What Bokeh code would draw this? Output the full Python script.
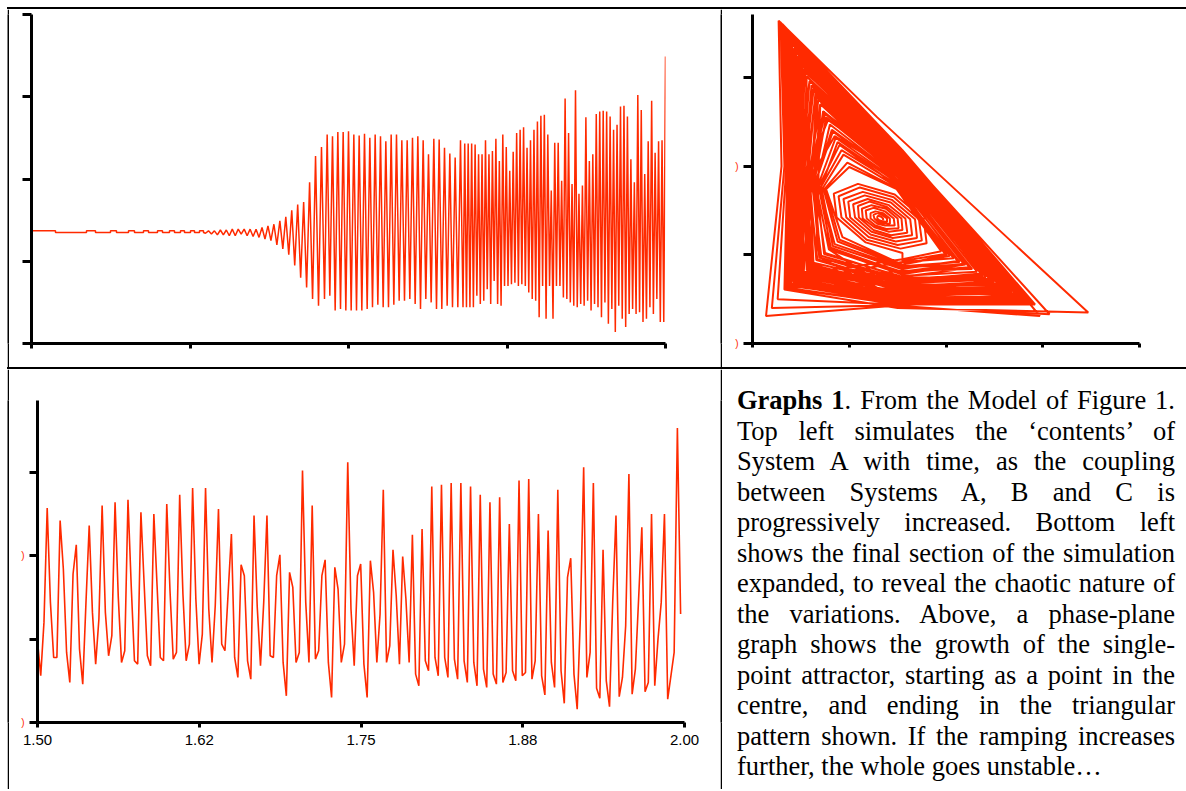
import numpy as np
from bokeh.plotting import figure
from bokeh.models import Range1d, FixedTicker, Div, Spacer
from bokeh.layouts import row, column
from bokeh.embed import file_html
from bokeh.resources import INLINE

RED = "#ff2a00"

# ---------------- Top left: contents of System A vs time ----------------
tl_xticks = [0, 0.5, 1.0, 1.5, 2.0]
tl_yticks = [0, 100, 200, 300, 400]
tl_flat_t = [0, 0.0757, 0.0757, 0.1735, 0.1735, 0.2019, 0.2019, 0.2492, 0.2492, 0.2681,
             0.2681, 0.306, 0.306, 0.3249, 0.3249, 0.3533, 0.3533, 0.3691, 0.3691, 0.3975,
             0.3975, 0.4132, 0.4132, 0.4353, 0.4353, 0.4511, 0.4511, 0.47, 0.47, 0.4826,
             0.4826, 0.5016, 0.5016, 0.5142, 0.5142, 0.53, 0.53, 0.5426, 0.5426]
tl_flat_v = [137, 137, 135, 135, 137, 137, 135, 135, 137, 137, 135, 135, 137, 137, 135, 135,
             137, 137, 135, 135, 137, 137, 135, 135, 137, 137, 135, 135, 137, 137, 135, 135,
             137, 137, 135, 135, 137, 137, 135]
tl_grow_span = (0.5489, 0.9148)
tl_grow_v = [134, 137, 133, 137, 132, 138, 132, 138, 131, 139, 131, 139,
             133, 139, 131, 139, 130, 139, 129, 141, 127, 143, 125, 145, 120, 149, 115, 154,
             108, 162, 95, 169, 80, 172, 68, 196, 54, 228, 46, 239]
tl_full_span = (0.9243, 1.3533)
tl_full_v = [54, 254, 58, 252, 40, 257, 42, 257, 40, 258, 40, 254, 40, 253, 40, 255, 42, 250,
             44, 254, 47, 252, 44, 246, 44, 254, 47, 254, 52, 247, 52, 247, 54, 250, 48, 252,
             42, 247, 54, 230, 50, 249, 42, 248, 42, 238, 46, 231, 44, 226, 44, 247]
tl_chaos_span = (1.3612, 2.0)
tl_chaos_v = [44, 243, 44, 243, 44, 243, 44, 242, 58, 230, 48, 230, 52, 247, 66, 230, 48, 234,
              76, 249, 48, 222, 46, 254, 70, 239, 70, 210, 72, 233, 74, 256, 70, 260, 72, 263,
              70, 238, 62, 247, 54, 260, 52, 270, 32, 277, 70, 278, 30, 254, 70, 186, 30, 244,
              70, 244, 70, 198, 56, 298, 54, 256, 50, 194, 46, 308, 44, 182, 48, 192, 46, 275,
              52, 222, 40, 230, 48, 279, 44, 282, 32, 283, 50, 282, 24, 276, 42, 260, 14, 266,
              46, 288, 30, 289, 20, 276, 36, 224, 42, 196, 36, 302, 38, 284, 26, 206, 30, 246,
              44, 295, 36, 232, 54, 246, 26, 247, 26, 349]

# ---------------- Bottom left: final section expanded ----------------
bl_span = (1.5, 1.997)
bl_xticks = [1.5, 1.625, 1.75, 1.875, 2.0]
bl_xlabels = ["1.50", "1.62", "1.75", "1.88", "2.00"]
bl_yticks = [0, 100, 200, 300]
bl_v = [98, 56, 120, 257, 144, 78, 78, 242, 184, 84, 48, 178, 213, 88, 46, 144, 236, 132, 70, 124,
        260, 132, 80, 104, 264, 150, 72, 86, 267, 164, 74, 70, 252, 166, 80, 68, 250, 164, 78, 74,
        262, 158, 76, 84, 273, 154, 74, 94,
        281, 148, 70, 106, 281, 136, 72, 140, 256, 94, 86, 156, 226, 78, 54, 189, 176, 74, 52, 248,
        138, 68, 144, 248, 80, 78, 176, 201, 72, 32, 180, 162, 72, 84, 302, 144, 72, 260, 76, 86,
        176, 195, 72, 30, 186, 160, 72, 94, 312, 136, 68, 176, 190,
        70, 30, 194, 156, 72, 130, 279, 72, 92, 207, 152, 70, 199, 148, 72, 225, 58, 44, 232, 74,
        62, 283, 78, 56, 285, 78, 54, 287, 76, 52, 287, 74, 48, 283, 72, 44, 273, 64, 42, 264,
        58, 46, 270, 48, 60, 238,
        62, 50, 290, 56, 60, 292, 52, 74, 250, 56, 33, 230, 72, 42, 279, 62, 23, 174, 197, 58,
        16, 128, 306, 54, 84, 287, 41, 29, 207, 50, 19, 146, 248, 31, 54, 116, 298, 34, 64, 148,
        234, 37, 48, 250, 44, 100, 144, 250, 28, 56, 84, 353, 130]

# ---------------- Top right: phase plane (A vs B) ----------------
pp_xticks = [0, 100, 200, 300, 400]
pp_yticks = [0, 100, 200, 300]
pp_x = [135, 135, 133, 130, 129, 129, 131, 134,
        139, 139, 134, 129, 125, 126, 130, 135,
        142, 142, 135, 127, 122, 122, 129, 137,
        147, 146, 137, 125, 117, 118, 127, 139,
        151, 150, 138, 123, 113, 114, 126, 141,
        155, 154, 139, 121, 109, 110, 125, 143,
        160, 158, 141, 119, 104, 106, 123, 145,
        165, 163, 143, 116, 99, 101, 122, 148,
        170, 168, 144, 114, 94, 97, 120, 150,
        175, 172, 146, 111, 89, 92, 118, 153,
        180, 177, 147, 109, 84, 87, 117, 155,
        155, 199, 149, 98, 75, 90,
        155, 204, 150, 92, 71, 83,
        154, 212, 150, 86, 68, 81,
        154, 224, 151, 80, 66, 74,
        153, 232, 151, 73, 62, 69,
        153, 236, 152, 68, 59, 63,
        153, 247, 152, 63, 53, 61,
        152, 250, 153, 59, 51, 57,
        152, 260, 153, 54, 50, 51,
        152, 261, 153, 51, 47, 51,
        151, 271, 154, 48, 45, 48,
        151, 271, 154, 45, 43, 43,
        155, 208, 149, 90, 69, 85,
        154, 219, 150, 83, 65, 79,
        154, 220, 151, 77, 61, 71,
        153, 241, 151, 75, 59, 66,
        153, 238, 152, 61, 56, 60,
        152, 255, 152, 56, 54, 56,
        152, 253, 153, 50, 49, 53,
        151, 264, 154, 43, 45, 46,
        151, 277, 154, 39, 42, 42,
        154, 227, 151, 70, 64, 75,
        153, 245, 152, 65, 57, 67,
        152, 258, 153, 52, 53, 58,
        152, 268, 153, 46, 47, 50,
        155, 195, 149, 100, 76, 93,
        155, 201, 149, 94, 73, 88,
        155, 214, 150, 88, 71, 80,
        154, 218, 151, 82, 65, 79,
        151, 247, 151, 85, 59, 53,
        153, 225, 151, 76, 64, 70,
        151, 258, 152, 78, 54, 47,
        153, 241, 151, 70, 58, 67,
        152, 241, 152, 74, 57, 60,
        152, 268, 152, 70, 68, 66,
        152, 236, 152, 66, 61, 56,
        153, 245, 152, 65, 55, 60,
        152, 249, 152, 61, 53, 60,
        151, 258, 153, 59, 48, 53,
        152, 260, 153, 56, 52, 53,
        150, 274, 153, 59, 45, 40,
        152, 258, 153, 53, 48, 52,
        152, 263, 154, 51, 54, 63,
        151, 268, 153, 62, 50, 47,
        151, 266, 153, 50, 46, 49,
        151, 273, 154, 47, 45, 45,
        151, 279, 154, 55, 44, 44,
        151, 271, 154, 45, 43, 43,
        151, 277, 154, 43, 41, 44,
        150, 275, 154, 49, 42, 39,
        151, 281, 154, 41, 41, 40,
        152, 263, 154, 37, 43, 50,
        150, 279, 154, 40, 40, 39,
        150, 287, 154, 43, 41, 42,
        150, 284, 155, 38, 39, 38,
        150, 286, 155, 37, 38, 37,
        150, 285, 155, 40, 38, 36,
        152, 274, 155, 33, 41, 47,
        150, 288, 155, 35, 37, 35,
        150, 282, 155, 41, 39, 34,
        150, 290, 155, 33, 36, 34,
        150, 289, 155, 36, 37, 38,
        150, 290, 155, 32, 38, 40,
        150, 286, 155, 34, 36, 35,
        150, 292, 155, 32, 36, 33,
        150, 347, 129, 27, 30, 14,
        140, 307, 150, 29, 33, 20,
        145, 297, 154, 31, 35, 26,
        150]
pp_y = [139, 141, 143, 144, 143, 141, 139, 138,
        137, 141, 145, 147, 145, 141, 137, 136,
        135, 141, 147, 149, 147, 141, 135, 133,
        133, 141, 149, 153, 150, 141, 133, 129,
        130, 141, 152, 156, 152, 141, 131, 126,
        128, 141, 154, 160, 155, 142, 128, 122,
        125, 141, 156, 163, 157, 142, 126, 119,
        122, 140, 159, 167, 160, 142, 123, 115,
        119, 140, 162, 171, 163, 142, 120, 111,
        116, 140, 165, 176, 166, 142, 117, 107,
        113, 140, 168, 180, 169, 142, 114, 102,
        93, 101, 175, 204, 175, 117,
        89, 99, 179, 218, 177, 110,
        84, 93, 183, 232, 179, 108,
        80, 86, 187, 247, 181, 101,
        76, 81, 192, 262, 183, 97,
        71, 79, 195, 275, 185, 91,
        68, 72, 198, 285, 189, 89,
        64, 70, 201, 296, 190, 85,
        61, 64, 204, 307, 191, 79,
        58, 63, 205, 314, 193, 78,
        55, 57, 208, 321, 194, 76,
        53, 57, 210, 328, 196, 71,
        92, 96, 178, 224, 178, 112,
        86, 89, 185, 239, 181, 106,
        78, 89, 189, 254, 184, 99,
        73, 75, 191, 259, 185, 94,
        69, 77, 197, 291, 187, 87,
        66, 66, 199, 301, 188, 83,
        62, 68, 206, 317, 192, 81,
        57, 61, 210, 333, 194, 73,
        52, 53, 213, 342, 196, 70,
        82, 84, 188, 270, 182, 102,
        75, 73, 194, 282, 186, 95,
        67, 65, 201, 310, 189, 86,
        60, 58, 206, 324, 193, 78,
        95, 104, 174, 199, 174, 120,
        89, 100, 177, 213, 176, 115,
        87, 92, 181, 227, 177, 107,
        81, 90, 187, 241, 181, 106,
        55, 72, 189, 234, 185, 81,
        75, 85, 190, 255, 182, 97,
        50, 65, 194, 252, 188, 75,
        72, 75, 193, 270, 186, 95,
        67, 75, 194, 261, 187, 87,
        61, 58, 198, 270, 179, 94,
        67, 79, 196, 278, 184, 84,
        70, 73, 197, 280, 187, 87,
        63, 70, 200, 291, 189, 87,
        55, 65, 203, 296, 193, 81,
        62, 64, 203, 301, 190, 81,
        47, 55, 203, 296, 194, 68,
        58, 65, 205, 308, 192, 80,
        64, 62, 208, 314, 188, 90,
        53, 58, 207, 287, 191, 75,
        55, 60, 206, 316, 193, 77,
        54, 56, 208, 323, 194, 73,
        50, 52, 211, 305, 195, 71,
        53, 57, 210, 328, 195, 71,
        51, 53, 212, 333, 196, 72,
        47, 54, 212, 319, 196, 67,
        50, 50, 213, 337, 197, 68,
        61, 62, 213, 346, 196, 78,
        48, 52, 214, 340, 198, 67,
        46, 47, 214, 331, 197, 70,
        47, 49, 215, 344, 198, 66,
        46, 48, 216, 347, 199, 65,
        49, 48, 216, 340, 199, 64,
        58, 55, 216, 356, 197, 75,
        45, 46, 217, 351, 199, 63,
        45, 50, 215, 337, 198, 62,
        45, 45, 218, 354, 200, 62,
        46, 46, 217, 349, 199, 66,
        46, 45, 217, 358, 199, 68,
        44, 48, 217, 353, 200, 63,
        44, 44, 218, 358, 200, 61,
        40, 35, 255, 364, 200, 31,
        42, 33, 222, 362, 200, 40,
        43, 31, 219, 360, 200, 50,
        44]

caption_lines = [
    "<b>Graphs 1</b>. From the Model of Figure 1.",
    "Top left simulates the &lsquo;contents&rsquo; of",
    "System A with time, as the coupling",
    "between Systems A, B and C is",
    "progressively increased. Bottom left",
    "shows the final section of the simulation",
    "expanded, to reveal the chaotic nature of",
    "the variations. Above, a phase-plane",
    "graph shows the growth of the single-",
    "point attractor, starting as a point in the",
    "centre, and ending in the triangular",
    "pattern shown. If the ramping increases",
    "further, the whole goes unstable&hellip;",
]


def make_fig(w, h, xr, yr, left, right, top, bottom):
    p = figure(width=w, height=h, x_range=Range1d(*xr), y_range=Range1d(*yr),
               output_backend="svg", toolbar_location=None,
               min_border_left=left, min_border_right=right,
               min_border_top=top, min_border_bottom=bottom)
    p.outline_line_color = None
    p.grid.visible = False
    p.background_fill_color = "white"
    p.border_fill_color = "white"
    for ax in (p.xaxis[0], p.yaxis[0]):
        ax.axis_line_width = 3
        ax.axis_line_color = "black"
        ax.major_tick_line_width = 3
        ax.major_tick_line_color = "black"
        ax.major_tick_in = 0
        ax.minor_tick_in = 0
        ax.minor_tick_out = 0
        ax.major_label_standoff = 5
    return p


def hide_labels(ax, ticks):
    ax.major_label_overrides = {t: "" for t in ticks}


def vborder(h):
    b = figure(width=2, height=h, toolbar_location=None, output_backend="svg",
               title=None, min_border=0, x_axis_type=None, y_axis_type=None)
    b.border_fill_color = "black"
    b.background_fill_color = "black"
    b.outline_line_color = None
    return b


def hborder(w):
    return Div(width=w, height=2, text="", margin=0,
               styles={"background-color": "black", "overflow": "hidden"})


# ---- top-left figure
p1 = make_fig(711, 358, (0, 2), (0, 400), 22, 55, 5, 22)
p1.xaxis.ticker = FixedTicker(ticks=tl_xticks)
p1.yaxis.ticker = FixedTicker(ticks=tl_yticks)
p1.xaxis.major_tick_out = 5
p1.yaxis.major_tick_out = 9
hide_labels(p1.xaxis[0], tl_xticks)
hide_labels(p1.yaxis[0], tl_yticks)
tl_t = np.concatenate([tl_flat_t,
                       np.linspace(tl_grow_span[0], tl_grow_span[1], len(tl_grow_v)),
                       np.linspace(tl_full_span[0], tl_full_span[1], len(tl_full_v)),
                       np.linspace(tl_chaos_span[0], tl_chaos_span[1], len(tl_chaos_v))])
tl_v = np.concatenate([tl_flat_v, tl_grow_v, tl_full_v, tl_chaos_v])
p1.line(tl_t, tl_v, line_color=RED, line_width=1.5)

# ---- top-right figure (phase plane)
p2 = make_fig(464, 358, (0, 400), (0, 371), 30, 47, 1, 24)
p2.xaxis.ticker = FixedTicker(ticks=pp_xticks)
p2.yaxis.ticker = FixedTicker(ticks=pp_yticks)
p2.xaxis.major_tick_out = 4
p2.yaxis.major_tick_out = 9
hide_labels(p2.xaxis[0], pp_xticks)
p2.yaxis.major_label_overrides = {0: ")", 100: "", 200: ")", 300: ""}
p2.yaxis.major_label_text_color = RED
p2.yaxis.major_label_text_font_size = "10px"
p2.yaxis.major_label_text_font = "Liberation Sans"
p2.line(pp_x, pp_y, line_color=RED, line_width=2)

# ---- bottom-left figure
p3 = make_fig(711, 420, (1.5, 2.0), (0, 386), 28, 36, 31, 67)
p3.xaxis.ticker = FixedTicker(ticks=bl_xticks)
p3.xaxis.major_label_overrides = dict(zip(bl_xticks, bl_xlabels))
p3.xaxis.major_tick_out = 5
p3.xaxis.major_label_standoff = 7
p3.xaxis.major_label_text_font = "Liberation Sans"
p3.xaxis.major_label_text_font_size = "15px"
p3.xaxis.major_label_text_color = "black"
p3.yaxis.ticker = FixedTicker(ticks=bl_yticks)
p3.yaxis.major_tick_out = 8
p3.yaxis.major_label_overrides = {0: ")", 100: "", 200: ")", 300: ""}
p3.yaxis.major_label_text_color = RED
p3.yaxis.major_label_text_font_size = "10px"
p3.yaxis.major_label_text_font = "Liberation Sans"
bl_t = np.linspace(bl_span[0], bl_span[1], len(bl_v))
p3.line(bl_t, bl_v, line_color=RED, line_width=1.6)

# ---- caption
line_html = []
for i, ln in enumerate(caption_lines):
    last = i == len(caption_lines) - 1
    align = "text-align:left;" if last else "text-align:justify;text-align-last:justify;"
    line_html.append(f'<div style="{align}">{ln}</div>')
caption = Div(width=464, height=420, margin=0, text=(
    '<div style="font-family:\'Liberation Serif\',\'Times New Roman\',serif;'
    'font-size:26.5px;line-height:30.5px;color:#000;box-sizing:border-box;width:453px;'
    'padding:16px 0 0 15px;margin:0;">' + "".join(line_html) + "</div>"))

layout = column(
    Spacer(width=1186, height=7),
    row(Spacer(width=7, height=2), hborder(1179)),
    row(Spacer(width=7, height=358), vborder(358), p1, vborder(358), p2),
    row(Spacer(width=7, height=2), hborder(1179)),
    row(Spacer(width=7, height=420), vborder(420), p3, vborder(420), caption),
)

open("out.html", "w", encoding="utf-8").write(file_html(layout, INLINE))
